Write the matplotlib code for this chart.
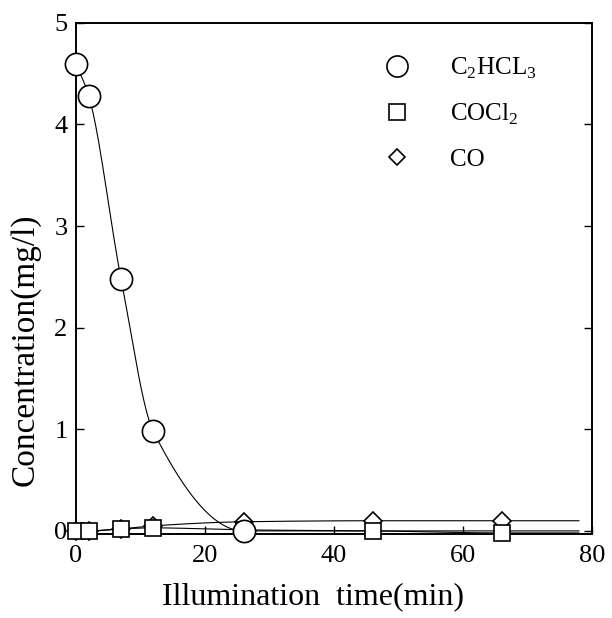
import numpy as np
import matplotlib
matplotlib.use("Agg")
import matplotlib.pyplot as plt
from matplotlib.lines import Line2D

plt.rcParams['font.family'] = ['Liberation Serif', 'DejaVu Serif']
plt.rcParams['mathtext.fontset'] = 'custom'
plt.rcParams['mathtext.rm'] = 'Liberation Serif'

# data
t_c2hcl3 = [0, 2, 7, 12, 26]
c_c2hcl3 = [4.6, 4.28, 2.48, 0.98, 0.0]

t_cocl2 = [0, 2, 7, 12, 26, 46, 66]
c_cocl2 = [0.0, 0.0, 0.02, 0.03, 0.01, 0.0, -0.02]

t_co = [0, 2, 7, 12, 26, 46, 66]
c_co = [0.0, 0.0, 0.02, 0.05, 0.09, 0.1, 0.1]

labels = [r'C$_\mathrm{2}$HCL$_\mathrm{3}$', r'COCl$_\mathrm{2}$', 'CO']
x_ticks = [0, 20, 40, 60, 80]
y_ticks = [0, 1, 2, 3, 4, 5]
T_END = 78  # hand-drawn curves stop a bit short of 80


def pchip(x, y, xs):
    # monotone cubic through the points, flat past the last one
    x = np.asarray(x, float)
    y = np.asarray(y, float)
    h = np.diff(x)
    d = np.diff(y) / h
    m = np.zeros_like(y)
    for k in range(1, len(x) - 1):
        if d[k - 1] * d[k] > 0:
            w1 = 2 * h[k] + h[k - 1]
            w2 = h[k] + 2 * h[k - 1]
            m[k] = (w1 + w2) / (w1 / d[k - 1] + w2 / d[k])
    m[0] = d[0] if len(d) else 0
    out = np.empty_like(xs)
    for j, xv in enumerate(xs):
        if xv >= x[-1]:
            out[j] = y[-1]
            continue
        k = np.searchsorted(x, xv, side='right') - 1
        t = (xv - x[k]) / h[k]
        h00 = 2 * t**3 - 3 * t**2 + 1
        h10 = t**3 - 2 * t**2 + t
        h01 = -2 * t**3 + 3 * t**2
        h11 = t**3 - t**2
        out[j] = h00 * y[k] + h10 * h[k] * m[k] + h01 * y[k + 1] + h11 * h[k] * m[k + 1]
    return out


fig = plt.figure(figsize=(6.12, 6.18), dpi=100)
ax = fig.add_axes([0.124, 0.136, 0.843, 0.827])

series = [
    (t_c2hcl3, c_c2hcl3, 'o', 16),
    (t_cocl2, c_cocl2, 's', 11.5),
    (t_co, c_co, 'D', 9),
]

for tx, cy, mk, ms in series:
    xs = np.linspace(tx[0], T_END, 400)
    ax.plot(xs, pchip(tx, cy, xs), color='black', lw=0.8, clip_on=False)

for tx, cy, mk, ms in series[::-1]:
    ax.plot(tx, cy, ls='none', marker=mk, ms=ms, mfc='white', mec='black',
            mew=1.2, clip_on=False, zorder=3)

ax.set_xlim(0, 80)
ax.set_ylim(-0.03, 5)
ax.set_xticks(x_ticks)
ax.set_yticks(y_ticks)
ax.tick_params(direction='in', length=6, width=1, labelsize=19, pad=6,
               right=True, top=False)
ax.tick_params(axis='x', pad=8)
for sp in ax.spines.values():
    sp.set_linewidth(1.4)

ax.set_xlabel('Illumination  time(min)', fontsize=23)
ax.xaxis.set_label_coords(0.46, -0.123)
ax.xaxis.label.set_va('center')
ax.set_ylabel('Concentration(mg/l)', fontsize=24)
ax.yaxis.set_label_coords(-0.099, 0.36)
ax.yaxis.label.set_va('center')

handles = [Line2D([], [], ls='none', marker=mk, ms=ms * 0.95, mfc='white',
                  mec='black', mew=1.2) for _, _, mk, ms in series]
ax.legend(handles, labels, loc='upper left', bbox_to_anchor=(0.565, 0.97),
          frameon=False, fontsize=18, handlelength=1.0, handletextpad=1.6,
          labelspacing=0.85, borderpad=0.2)

fig.savefig('out.png', dpi=100)
